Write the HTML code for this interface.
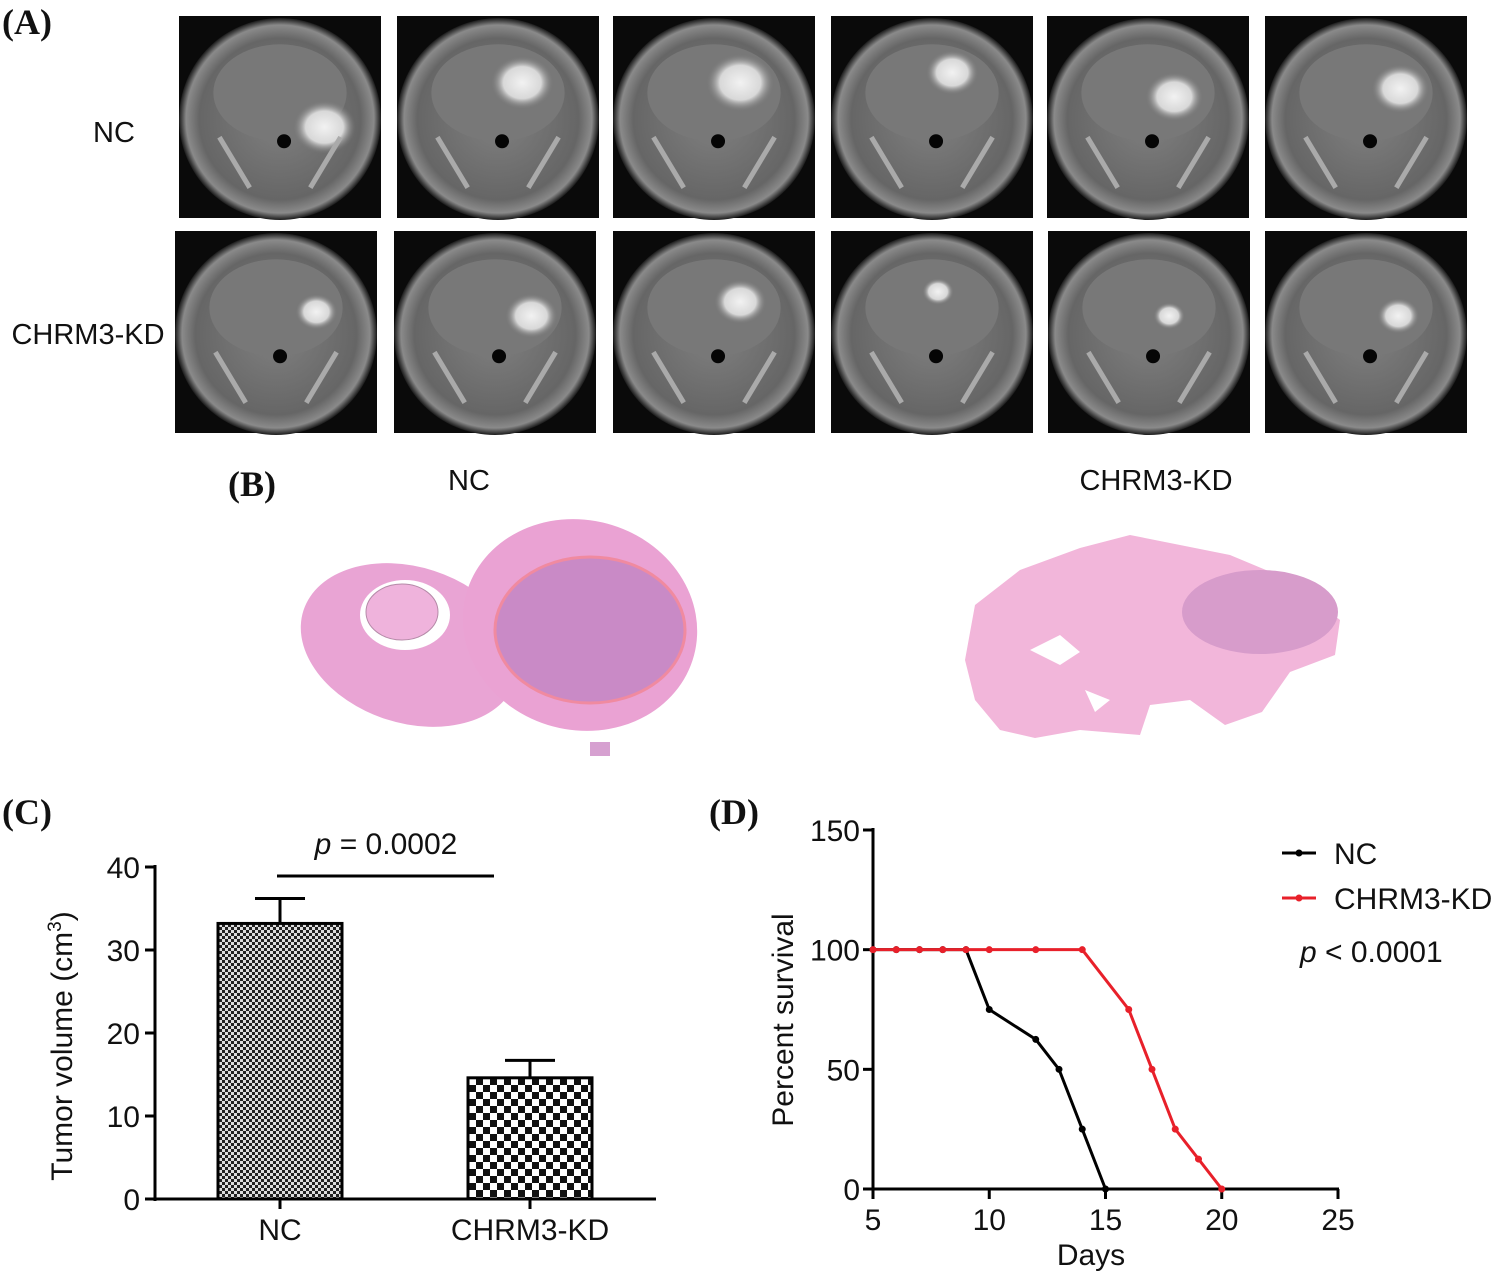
<!DOCTYPE html>
<html><head><meta charset="utf-8"><style>
html,body{margin:0;padding:0;background:#fff}
svg{display:block}
text{font-family:"Liberation Sans",sans-serif;fill:#111}
.lbl{font-family:"Liberation Serif",serif;font-weight:bold;font-size:36px}
</style></head><body>
<svg id="fig" width="1500" height="1277" viewBox="0 0 1500 1277" xmlns="http://www.w3.org/2000/svg">
<defs>
<radialGradient id="head" cx="50%" cy="50%" r="50%"><stop offset="0" stop-color="#808080"/><stop offset="0.8" stop-color="#666"/><stop offset="0.93" stop-color="#8a8a8a"/><stop offset="1" stop-color="#1a1a1a"/></radialGradient>
<radialGradient id="tum" cx="50%" cy="50%" r="50%"><stop offset="0" stop-color="#f2f2f2"/><stop offset="0.6" stop-color="#d8d8d8"/><stop offset="1" stop-color="#777" stop-opacity="0"/></radialGradient>
<pattern id="dots1" width="6" height="6" patternUnits="userSpaceOnUse"><rect width="6" height="6" fill="#ddd"/><rect width="3" height="3" fill="#222"/><rect x="3" y="3" width="3" height="3" fill="#222"/></pattern>
<pattern id="dots2" width="14" height="14" patternUnits="userSpaceOnUse"><rect width="14" height="14" fill="#fff"/><rect width="7" height="7" fill="#111"/><rect x="7" y="7" width="7" height="7" fill="#111"/></pattern>
</defs>

<text class="lbl" x="2" y="34">(A)</text>
<text x="114" y="142" font-size="29" text-anchor="middle">NC</text>
<text x="88" y="344" font-size="29" text-anchor="middle">CHRM3-KD</text>
<g id="mri"></g>

<text class="lbl" x="228" y="496">(B)</text>
<text x="469" y="490" font-size="29" text-anchor="middle">NC</text>
<text x="1156" y="490" font-size="29" text-anchor="middle">CHRM3-KD</text>
<g>
<ellipse cx="410" cy="645" rx="112" ry="78" fill="#e9a4d4" transform="rotate(18 410 645)"/>
<ellipse cx="580" cy="625" rx="118" ry="105" fill="#eaa2d3" transform="rotate(15 580 625)"/>
<ellipse cx="405" cy="615" rx="45" ry="35" fill="#fff"/>
<ellipse cx="402" cy="612" rx="36" ry="28" fill="#efb3dc" stroke="#b58aa8"/>
<ellipse cx="590" cy="630" rx="95" ry="73" fill="#c98ac6" stroke="#f08aa0" stroke-width="3"/>
<rect x="590" y="742" width="20" height="14" fill="#d6a0d0"/>
</g>
<g>
<path d="M965 660 L975 605 L1020 570 L1080 548 L1130 535 L1180 545 L1230 555 L1290 580 L1340 620 L1335 655 L1290 672 L1262 712 L1225 725 L1190 700 L1150 705 L1140 735 L1080 730 L1035 738 L1000 730 L975 700 Z" fill="#f2b6da"/>
<ellipse cx="1260" cy="612" rx="78" ry="42" fill="#d79ccb"/>
<path d="M1030 650 L1060 635 L1080 652 L1060 665 Z M1085 690 L1110 700 L1095 712 Z" fill="#fff"/>
</g>

<text class="lbl" x="2" y="824">(C)</text>
<g id="chartC"></g>
<text class="lbl" x="709" y="824">(D)</text>
<g id="chartD"></g>
</svg>
<script>
const NS="http://www.w3.org/2000/svg";
function mk(p,t,a){const e=document.createElementNS(NS,t);for(const k in a)e.setAttribute(k,a[k]);p.appendChild(e);return e;}

const tileX1=[179,397,613,831,1047,1265], tileX2=[175,394,613,831,1048,1265];
const tumors1=[[0.72,0.55,0.12],[0.62,0.33,0.12],[0.63,0.33,0.13],[0.6,0.28,0.1],[0.63,0.4,0.11],[0.67,0.36,0.11]];
const tumors2=[[0.7,0.4,0.08],[0.68,0.42,0.1],[0.63,0.35,0.1],[0.53,0.3,0.06],[0.6,0.42,0.06],[0.66,0.42,0.08]];
const mri=document.getElementById('mri');
[[tileX1,16,tumors1],[tileX2,231,tumors2]].forEach(([xs,y,tm],r)=>{
 xs.forEach((x,i)=>{
  const w=202,h=202;
  const g=mk(mri,'g',{});
  
  
  mk(g,'rect',{x,y,width:w,height:h,fill:'#0a0a0a'});
  mk(g,'ellipse',{cx:x+w/2,cy:y+h/2+2,rx:w*0.5,ry:h*0.5,fill:'url(#head)'});
  mk(g,'ellipse',{cx:x+w/2,cy:y+h*0.38,rx:w*0.33,ry:h*0.24,fill:'#787878'});
  mk(g,'ellipse',{cx:x+w*tm[i][0],cy:y+h*tm[i][1],rx:w*tm[i][2]*1.3,ry:h*tm[i][2]*1.1,fill:'url(#tum)'});
  mk(g,'circle',{cx:x+w*0.52,cy:y+h*0.62,r:7,fill:'#050505'});
  mk(g,'path',{d:`M${x+w*0.2} ${y+h*0.6} L${x+w*0.35} ${y+h*0.85} M${x+w*0.8} ${y+h*0.6} L${x+w*0.65} ${y+h*0.85}`,stroke:'#aaa','stroke-width':5,fill:'none'});
 });
});

// Chart C
const catsC=['NC','CHRM3-KD'];
const meansC=[33.2,14.6];
const errC=[36.2,16.7];
const ticksC=[0,10,20,30,40];
const C=document.getElementById('chartC');
const yC=v=>1199-v*(1199-867)/40;
const xC=i=>[280,530][i];
mk(C,'line',{x1:155,y1:865,x2:155,y2:1201,stroke:'#000','stroke-width':3});
mk(C,'line',{x1:145,y1:1199,x2:656,y2:1199,stroke:'#000','stroke-width':3});
ticksC.forEach(t=>{mk(C,'line',{x1:145,y1:yC(t),x2:155,y2:yC(t),stroke:'#000','stroke-width':3});
 const tx=mk(C,'text',{x:140,y:yC(t)+11,'font-size':30,'text-anchor':'end'});tx.textContent=t;
 
 });
catsC.forEach((c,i)=>{
 const x=xC(i);
 const b=mk(C,'rect',{x:x-62,y:yC(meansC[i]),width:124,height:1199-yC(meansC[i]),fill:i?'url(#dots2)':'url(#dots1)',stroke:'#000','stroke-width':3});
 
 
 mk(C,'line',{x1:x,y1:yC(meansC[i]),x2:x,y2:yC(errC[i]),stroke:'#000','stroke-width':3});
 mk(C,'line',{x1:x-25,y1:yC(errC[i]),x2:x+25,y2:yC(errC[i]),stroke:'#000','stroke-width':3});
 mk(C,'line',{x1:x,y1:1199,x2:x,y2:1209,stroke:'#000','stroke-width':3});
 const tx=mk(C,'text',{x,y:1240,'font-size':30,'text-anchor':'middle'});tx.textContent=c;
 
 
});
mk(C,'line',{x1:277,y1:876,x2:494,y2:876,stroke:'#000','stroke-width':3});
const pc=mk(C,'text',{x:386,y:854,'font-size':30,'text-anchor':'middle'});pc.innerHTML='<tspan font-style="italic">p</tspan> = 0.0002';


const yt=mk(C,'text',{x:0,y:0,'font-size':30,'text-anchor':'middle',transform:'translate(72 1046) rotate(-90)'});yt.innerHTML='Tumor volume (cm<tspan font-size="19" dy="-11">3</tspan><tspan dy="11">)</tspan>';



// Chart D
const ncDays=[5,6,7,8,9,10,12,13,14,15];
const ncSurv=[100,100,100,100,100,75,62.5,50,25,0];
const kdDays=[5,6,7,8,9,10,12,14,16,17,18,19,20];
const kdSurv=[100,100,100,100,100,100,100,100,75,50,25,12.5,0];
const xTicksD=[5,10,15,20,25];
const yTicksD=[0,50,100,150];
const D=document.getElementById('chartD');
const xD=d=>873+(d-5)*(1338-873)/20;
const yD=v=>1189-v*(1189-830)/150;
mk(D,'line',{x1:873,y1:828,x2:873,y2:1191,stroke:'#000','stroke-width':3});
mk(D,'line',{x1:871,y1:1189,x2:1339,y2:1189,stroke:'#000','stroke-width':3});
yTicksD.forEach(t=>{mk(D,'line',{x1:863,y1:yD(t),x2:873,y2:yD(t),stroke:'#000','stroke-width':3});
 const tx=mk(D,'text',{x:860,y:yD(t)+11,'font-size':30,'text-anchor':'end'});tx.textContent=t;
 
 });
xTicksD.forEach(t=>{mk(D,'line',{x1:xD(t),y1:1189,x2:xD(t),y2:1199,stroke:'#000','stroke-width':3});
 const tx=mk(D,'text',{x:xD(t),y:1230,'font-size':30,'text-anchor':'middle'});tx.textContent=t;
 
 });
[[ncDays,ncSurv,'#000','nc'],[kdDays,kdSurv,'#e8202a','chrm3-kd']].forEach(([ds,ss,col,n])=>{
 const l=mk(D,'polyline',{points:ds.map((d,i)=>xD(d)+','+yD(ss[i])).join(' '),fill:'none',stroke:col,'stroke-width':3});
 
 
 ds.forEach((d,i)=>{const c=mk(D,'circle',{cx:xD(d),cy:yD(ss[i]),r:3.5,fill:col});
  
  });
});
const xt=mk(D,'text',{x:1091,y:1265,'font-size':30,'text-anchor':'middle'});xt.textContent='Days';


const ytd=mk(D,'text',{x:0,y:0,'font-size':30,'text-anchor':'middle',transform:'translate(793 1020) rotate(-90)'});ytd.textContent='Percent survival';


[['NC','#000',853],['CHRM3-KD','#e8202a',898]].forEach(([n,c,y])=>{
 const g=mk(D,'g',{});
 
 
 mk(g,'line',{x1:1282,y1:y,x2:1316,y2:y,stroke:c,'stroke-width':3});
 mk(g,'circle',{cx:1299,cy:y,r:3.5,fill:c});
 const t=mk(g,'text',{x:1334,y:y+11,'font-size':30});t.textContent=n;
});
const pd=mk(D,'text',{x:1300,y:962,'font-size':30});pd.innerHTML='<tspan font-style="italic">p</tspan> &lt; 0.0001';


</script>
</body></html>
